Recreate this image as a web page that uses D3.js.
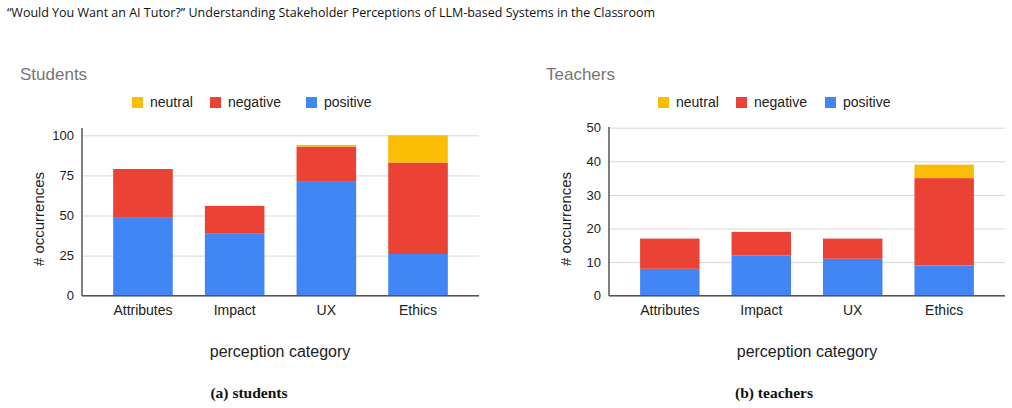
<!DOCTYPE html>
<html>
<head>
<meta charset="utf-8">
<script src="https://cdn.jsdelivr.net/npm/d3@7"></script>
<style>
  body { margin: 0; background: white; }
  svg { display: block; }
</style>
</head>
<body>
<script>
// data
const categories = ['Attributes', 'Impact', 'UX', 'Ethics'];
const seriesKeys = ['positive', 'negative', 'neutral'];
const legendOrder = ['neutral', 'negative', 'positive'];

const studentsPositive = [49, 39, 71, 26];
const studentsNegative = [30, 17, 22, 57];
const studentsNeutral = [0, 0, 1, 17];
const studentsTicks = [0, 25, 50, 75, 100];

const teachersPositive = [8, 12, 11, 9];
const teachersNegative = [9, 7, 6, 26];
const teachersNeutral = [0, 0, 0, 4];
const teachersTicks = [0, 10, 20, 30, 40, 50];

const colors = { positive: '#4285F4', negative: '#EA4335', neutral: '#FBBC04' };

const svg = d3.select('body').append('svg').attr('width', 1012).attr('height', 408);

// page header
svg.append('text')
  .attr('x', 7).attr('y', 17)
  .attr('font-family', '"Linux Biolinum", "Open Sans", sans-serif')
  .attr('font-size', 12.5)
  .attr('fill', '#111')
  .attr('textLength', 648)
  .attr('lengthAdjust', 'spacingAndGlyphs')
  .text('\u201CWould You Want an AI Tutor?\u201D Understanding Stakeholder Perceptions of LLM-based Systems in the Classroom');

function buildTable(pos, neg, neu) {
  return categories.map((c, i) => ({ cat: c, positive: pos[i], negative: neg[i], neutral: neu[i] }));
}

function drawChart(opt) {
  const g = svg.append('g');
  const font = '"Liberation Sans", Arial, sans-serif';

  // title
  g.append('text').attr('x', opt.titleX).attr('y', 80)
    .attr('font-family', font).attr('font-size', 17).attr('fill', '#757575')
    .text(opt.title);

  // legend
  legendOrder.forEach((k, i) => {
    g.append('rect').attr('x', opt.legendX[i]).attr('y', 97).attr('width', 11).attr('height', 11)
      .attr('fill', colors[k]);
    g.append('text').attr('x', opt.legendX[i] + 18).attr('y', 107)
      .attr('font-family', font).attr('font-size', 14).attr('fill', '#222')
      .text(k);
  });

  const x = d3.scaleBand().domain(categories).range([opt.left, opt.right])
    .paddingInner(0.35).paddingOuter(0.34);
  const y = d3.scaleLinear().domain([0, opt.max]).range([295.7, opt.topY]);

  // grid
  const grid = g.append('g').attr('transform', `translate(${opt.left},0)`)
    .call(d3.axisLeft(y).tickValues(opt.ticks).tickFormat('').tickSize(-(opt.right - opt.left)).tickSizeOuter(0));
  grid.select('.domain').remove();
  grid.selectAll('line').attr('stroke', '#d9d9d9');

  // bars
  const stacked = d3.stack().keys(seriesKeys)(opt.data);
  g.append('g').selectAll('g').data(stacked).join('g')
    .attr('fill', d => colors[d.key])
    .selectAll('rect').data(d => d).join('rect')
    .attr('x', d => x(d.data.cat))
    .attr('width', x.bandwidth())
    .attr('y', d => y(d[1]))
    .attr('height', d => y(d[0]) - y(d[1]));

  // y axis
  const ya = g.append('g').attr('transform', `translate(${opt.left},0)`)
    .call(d3.axisLeft(y).tickValues(opt.ticks).tickSize(0).tickPadding(8));
  ya.select('.domain').remove();
  ya.selectAll('text').attr('font-family', font).attr('font-size', 13).attr('fill', '#222');
  g.append('line').attr('x1', opt.left).attr('x2', opt.left)
    .attr('y1', opt.axisTop).attr('y2', 296).attr('stroke', '#555').attr('stroke-width', 1.5);

  // x axis
  const xa = g.append('g').attr('transform', 'translate(0,295.7)')
    .call(d3.axisBottom(x).tickSize(0).tickPadding(9));
  xa.select('.domain').attr('stroke', '#555').attr('stroke-width', 1.5)
    .attr('d', `M${opt.left},0H${opt.right}`);
  xa.selectAll('text').attr('font-family', font).attr('font-size', 14).attr('fill', '#222');

  // axis titles
  g.append('text')
    .attr('transform', `translate(${opt.yTitleX},${219}) rotate(-90)`)
    .attr('text-anchor', 'middle').attr('dy', '0.35em')
    .attr('font-family', font).attr('font-size', 15).attr('fill', '#222')
    .text('# occurrences');
  g.append('text').attr('x', opt.xTitleX).attr('y', 357)
    .attr('text-anchor', 'middle')
    .attr('font-family', font).attr('font-size', 16).attr('fill', '#222')
    .text('perception category');

  // caption
  g.append('text').attr('x', opt.captionX).attr('y', 398)
    .attr('text-anchor', 'middle')
    .attr('font-family', '"Linux Libertine", "Liberation Serif", serif')
    .attr('font-weight', 'bold').attr('font-size', 15.5).attr('fill', '#111')
    .text(opt.caption);
}

drawChart({
  title: 'Students', titleX: 20,
  legendX: [132, 210, 306],
  left: 82, right: 479, max: 100, topY: 135.3, axisTop: 128,
  ticks: studentsTicks,
  data: buildTable(studentsPositive, studentsNegative, studentsNeutral),
  yTitleX: 39, xTitleX: 280, captionX: 249, caption: '(a) students'
});

drawChart({
  title: 'Teachers', titleX: 546,
  legendX: [658, 736, 825],
  left: 609, right: 1005, max: 50, topY: 127.7, axisTop: 127,
  ticks: teachersTicks,
  data: buildTable(teachersPositive, teachersNegative, teachersNeutral),
  yTitleX: 566, xTitleX: 807, captionX: 774, caption: '(b) teachers'
});
</script>
</body>
</html>
